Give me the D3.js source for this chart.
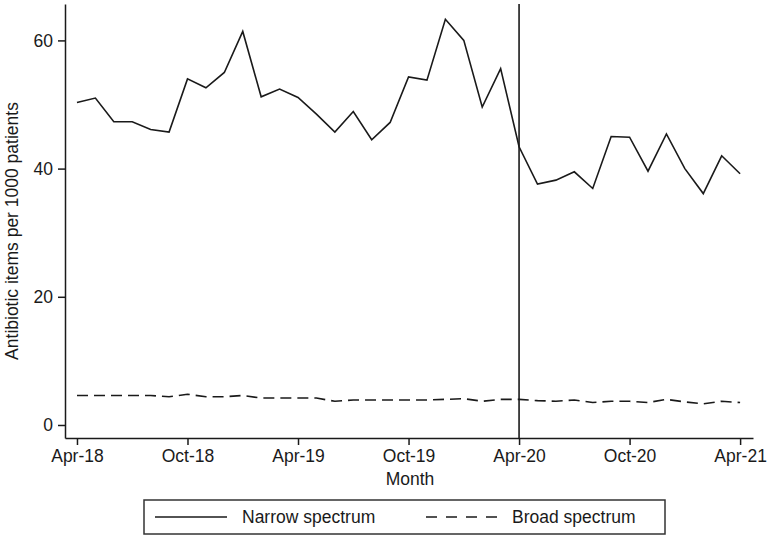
<!DOCTYPE html>
<html>
<head>
<meta charset="utf-8">
<title>Antibiotic items per 1000 patients</title>
<style>
  body { margin: 0; background: #fff; }
  text { font-family: 'Liberation Sans', Arial, sans-serif; fill: #1a1a1a; }
  .axis path, .axis line { stroke: #1a1a1a; stroke-width: 1.5; }
  .axis text { font-size: 17.5px; }
</style>
<script src="https://d3js.org/d3.v7.min.js"></script>
</head>
<body>
<div id="container"></div>
<script>
// ******* Data *******
const months = ["Apr-18","May-18","Jun-18","Jul-18","Aug-18","Sep-18","Oct-18","Nov-18","Dec-18",
  "Jan-19","Feb-19","Mar-19","Apr-19","May-19","Jun-19","Jul-19","Aug-19","Sep-19","Oct-19","Nov-19","Dec-19",
  "Jan-20","Feb-20","Mar-20","Apr-20","May-20","Jun-20","Jul-20","Aug-20","Sep-20","Oct-20","Nov-20","Dec-20",
  "Jan-21","Feb-21","Mar-21","Apr-21"];
const narrow = [50.3, 51.0, 47.3, 47.3, 46.1, 45.7, 54.0, 52.6, 55.0,
  61.4, 51.2, 52.4, 51.1, 48.5, 45.7, 48.9, 44.5, 47.2, 54.3, 53.8, 63.3,
  60.0, 49.6, 55.6, 43.4, 37.6, 38.2, 39.5, 36.9, 45.0, 44.9, 39.6, 45.4,
  40.0, 36.1, 42.0, 39.2];
const broad = [4.6, 4.6, 4.6, 4.6, 4.6, 4.4, 4.8, 4.4, 4.4,
  4.6, 4.2, 4.2, 4.2, 4.2, 3.7, 3.9, 3.9, 3.9, 3.9, 3.9, 4.0,
  4.1, 3.7, 4.0, 4.0, 3.8, 3.7, 3.9, 3.5, 3.7, 3.7, 3.5, 4.0,
  3.6, 3.3, 3.7, 3.5];
const xTickIdx = [0, 6, 12, 18, 24, 30, 36];
const yTicks = [0, 20, 40, 60];
const interventionIdx = 24;
const seriesNames = ["Narrow spectrum", "Broad spectrum"];

// ******* Constants *******
const width = 768, height = 540;
const plot = { left: 65, right: 753, top: 4, bottom: 438 };

// ******* Scales *******
const x = d3.scaleLinear().domain([-0.65, 36.7]).range([plot.left, plot.right]);
const y = d3.scaleLinear().domain([-2.03, 65.68]).range([plot.bottom, plot.top]);

// ******* SVG *******
const svg = d3.select("#container").append("svg")
    .attr("width", width)
    .attr("height", height);

svg.append("rect").attr("width", width).attr("height", height).attr("fill", "#fff");

// ******* Axes *******
svg.append("g")
    .attr("class", "axis")
    .attr("transform", `translate(0, ${plot.bottom})`)
    .call(d3.axisBottom(x).tickValues(xTickIdx).tickFormat(i => months[i])
      .tickSize(7).tickSizeOuter(0).tickPadding(5));

svg.append("g")
    .attr("class", "axis")
    .attr("transform", `translate(${plot.left}, 0)`)
    .call(d3.axisLeft(y).tickValues(yTicks).tickSize(7).tickSizeOuter(0).tickPadding(5));

// intervention line
svg.append("line")
    .attr("x1", x(interventionIdx)).attr("x2", x(interventionIdx))
    .attr("y1", plot.top).attr("y2", plot.bottom)
    .attr("stroke", "#1a1a1a").attr("stroke-width", 1.6);

// ******* Lines *******
const line = d3.line().x((d, i) => x(i)).y(d => y(d));

svg.append("path")
    .datum(narrow)
    .attr("d", line)
    .attr("fill", "none")
    .attr("stroke", "#1a1a1a")
    .attr("stroke-width", 1.6)
    .attr("stroke-linejoin", "miter");

svg.append("path")
    .datum(broad)
    .attr("d", line)
    .attr("fill", "none")
    .attr("stroke", "#1a1a1a")
    .attr("stroke-width", 1.6)
    .attr("stroke-dasharray", "11,6");

// ******* Axis titles *******
svg.append("text")
    .attr("x", (plot.left + plot.right) / 2 + 1)
    .attr("y", 485)
    .attr("text-anchor", "middle")
    .style("font-size", "17.5px")
    .text("Month");

svg.append("text")
    .attr("transform", `translate(18, 231) rotate(-90)`)
    .attr("text-anchor", "middle")
    .style("font-size", "17.5px")
    .text("Antibiotic items per 1000 patients");

// ******* Legend *******
const legend = svg.append("g");
legend.append("rect")
    .attr("x", 144).attr("y", 500).attr("width", 521).attr("height", 34)
    .attr("fill", "#fff").attr("stroke", "#333").attr("stroke-width", 1.5);

legend.append("line")
    .attr("x1", 155).attr("x2", 227).attr("y1", 517).attr("y2", 517)
    .attr("stroke", "#1a1a1a").attr("stroke-width", 1.6);
legend.append("text")
    .attr("x", 242).attr("y", 523)
    .style("font-size", "17.5px")
    .text(seriesNames[0]);

legend.append("line")
    .attr("x1", 426).attr("x2", 500).attr("y1", 517).attr("y2", 517)
    .attr("stroke", "#1a1a1a").attr("stroke-width", 1.6)
    .attr("stroke-dasharray", "11,9");
legend.append("text")
    .attr("x", 512).attr("y", 523)
    .style("font-size", "17.5px")
    .text(seriesNames[1]);
</script>
</body>
</html>
